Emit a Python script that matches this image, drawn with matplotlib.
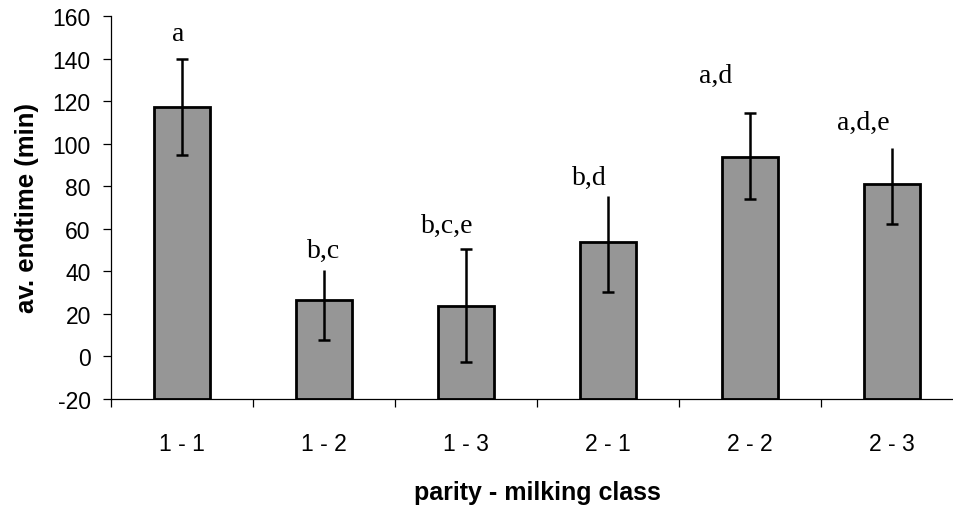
import numpy as np
import matplotlib
matplotlib.use('Agg')
import matplotlib.pyplot as plt
from matplotlib.ticker import FixedLocator

# data
classes = ['1 - 1', '1 - 2', '1 - 3', '2 - 1', '2 - 2', '2 - 3']
endtime = [117.0, 26.5, 23.9, 53.9, 93.9, 81.2]
err_lo = [22.2, 18.9, 26.6, 23.7, 20.0, 19.1]
err_hi = [22.6, 14.3, 26.6, 21.4, 20.5, 16.6]   # top whiskers partly hidden by the letters
letters = ['a', 'b,c', 'b,c,e', 'b,d', 'a,d', 'a,d,e']
letter_y = [148.7, 46.7, 58.6, 81.1, 129.1, 106.9]
letter_shift = [-0.03, 0.0, -0.135, -0.134, -0.24, -0.2]
top_cap = [True, False, True, False, True, False]

BASE = -20

plt.rcParams['font.family'] = ['Liberation Sans', 'DejaVu Sans']
plt.rcParams['axes.unicode_minus'] = False

fig = plt.figure(figsize=(9.54, 5.06), dpi=100)
ax = fig.add_axes([111/954, 106/506, 852/954, 383/506])

x = np.arange(len(classes))
heights = np.array(endtime) - BASE
ax.bar(x, heights, bottom=BASE, width=0.4, color='#969696',
       edgecolor='black', linewidth=2.0, zorder=2)

# whiskers (caps added separately, some are covered by the letter boxes)
ax.errorbar(x, endtime, yerr=[err_lo, err_hi], fmt='none', ecolor='black',
            elinewidth=1.8, capsize=0, zorder=3)
lo_ends = np.array(endtime) - np.array(err_lo)
hi_ends = np.array(endtime) + np.array(err_hi)
ax.plot(x, lo_ends, linestyle='none', marker='_', markersize=9,
        markeredgewidth=1.8, color='black', zorder=3)
cap_idx = [i for i, c in enumerate(top_cap) if c]
ax.plot(x[cap_idx], hi_ends[cap_idx], linestyle='none', marker='_',
        markersize=9, markeredgewidth=1.8, color='black', zorder=3)

for i, lab in enumerate(letters):
    ax.text(x[i] + letter_shift[i], letter_y[i], lab, ha='center', va='baseline',
            fontsize=20, family=['Liberation Serif', 'DejaVu Serif'])

ax.set_xlim(-0.5, 5.5)
ax.set_ylim(-20, 160)
ax.set_yticks(np.arange(-20, 161, 20))
ax.set_xticks(x)
ax.set_xticklabels(classes)
ax.xaxis.set_minor_locator(FixedLocator(np.arange(-0.5, 6, 1)))

ax.tick_params(axis='x', which='major', length=0, pad=24, labelsize=16.5)
ax.tick_params(axis='x', which='minor', length=6, width=0.9, direction='out')
ax.tick_params(axis='y', length=5.5, width=0.9, pad=9, labelsize=16.5)

for s in ['top', 'right']:
    ax.spines[s].set_visible(False)
for s in ['left', 'bottom']:
    ax.spines[s].set_linewidth(0.9)
ax.spines['bottom'].set_zorder(4)

ax.set_ylabel('av. endtime (min)', fontsize=18.5, fontweight='bold', labelpad=10)
ax.set_xlabel('parity - milking class', fontsize=18, fontweight='bold', labelpad=18)

fig.savefig('out.png', dpi=100)
